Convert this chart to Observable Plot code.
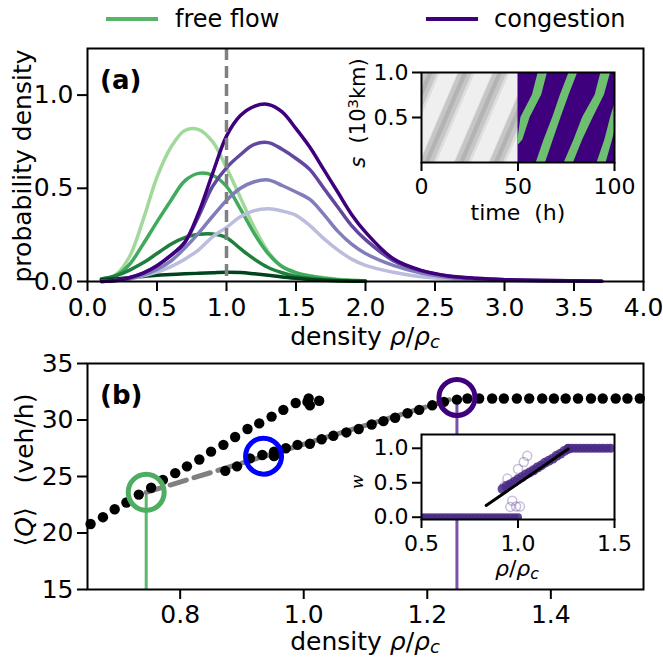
<!DOCTYPE html>
<html><head><meta charset="utf-8">
<script src="https://cdn.jsdelivr.net/npm/d3@7"></script>
<script src="https://cdn.jsdelivr.net/npm/@observablehq/plot@0.6"></script>
<style>
body{margin:0;background:#fff;}
#root{position:relative;width:663px;height:657px;overflow:hidden;background:#fff;font-family:"DejaVu Sans",sans-serif;color:#000;}
#root svg{position:absolute;background:transparent;}
.lab{position:absolute;white-space:nowrap;line-height:1;}
sub{font-size:0.72em;vertical-align:-0.2em;line-height:0;}
sup{font-size:0.7em;vertical-align:0.45em;line-height:0;}
</style></head><body><div id="root"></div>
<script>
// ---------- Panel (a): probability densities ----------
const densityX = [0.1,0.2,0.3,0.4,0.5,0.6,0.7,0.8,0.9,1.0,1.1,1.2,1.3,1.4,1.5,1.6,1.7,1.8,1.9,2.0,2.2,2.4,2.6,2.8,3.0,3.3,3.7];
const freeFlow1 = [0.015,0.035,0.13,0.33,0.56,0.72,0.81,0.815,0.75,0.61,0.45,0.29,0.16,0.08,0.045,0.03,0.02,0.012,0.007,0.004];
const freeFlow2 = [0.014,0.03,0.09,0.20,0.32,0.435,0.54,0.58,0.57,0.51,0.39,0.257,0.15,0.08,0.048,0.03,0.018,0.01,0.006,0.003];
const freeFlow3 = [0.014,0.03,0.06,0.10,0.15,0.20,0.235,0.253,0.255,0.235,0.176,0.12,0.075,0.047,0.027,0.017,0.01,0.006,0.004,0.002];
const freeFlow4 = [0.01,0.015,0.02,0.027,0.033,0.037,0.041,0.044,0.047,0.05,0.048,0.041,0.033,0.024,0.017,0.011,0.007,0.004,0.002,0.001];
const congestion1 = [0,0.005,0.012,0.03,0.05,0.08,0.12,0.17,0.24,0.29,0.347,0.38,0.39,0.378,0.355,0.3,0.23,0.17,0.12,0.087,0.05,0.026,0.014,0.008,0.005,0.002,0.001];
const congestion2 = [0,0.005,0.015,0.035,0.065,0.11,0.18,0.26,0.35,0.435,0.5,0.535,0.545,0.515,0.48,0.44,0.36,0.27,0.2,0.15,0.086,0.045,0.022,0.012,0.007,0.003,0.001];
const congestion3 = [0,0.005,0.02,0.045,0.085,0.14,0.21,0.35,0.51,0.61,0.68,0.735,0.745,0.71,0.66,0.6,0.5,0.4,0.3,0.225,0.112,0.058,0.028,0.016,0.01,0.005,0.002];
const congestion4 = [0,0.005,0.02,0.045,0.085,0.14,0.21,0.37,0.58,0.78,0.89,0.94,0.95,0.91,0.82,0.72,0.6,0.48,0.36,0.265,0.122,0.06,0.03,0.017,0.01,0.005,0.002];
const aXTicks = [0,0.5,1.0,1.5,2.0,2.5,3.0,3.5,4.0];
const aYTicks = [0,0.5,1.0];
const criticalDensity = [1.0];

// ---------- Inset (a): space-time plot ----------
const stripeS = [[0.2,0.25,0.5,0.75,1],[0,0.25,0.5,0.75,1],[0,0.25,0.5,0.75,1],[0,0.25,0.5,0.75,1]];
const stripeLeft  = [[50,50,51.5,57.5,60.5],[59.5,63.5,68,72,76.5],[74,79,83.5,90,93],[91,95,98,101.5,105]];
const stripeRight = [[50.5,52.5,56.3,62.3,65.3],[64.3,68.3,72.3,76.5,81],[78.8,83.5,89,94.8,98],[95.7,99,102,106,110]];
const grayBandStart = [-15,3,21,39];   // time at s=0
const grayBandEnd   = [5,23,41,59];    // time at s=1
const insetATicksX = [0,50,100];
const insetATicksY = [0.5,1.0];

// ---------- Panel (b): flow vs density ----------
const upperX = [0.655,0.675,0.694,0.713,0.733,0.753,0.772,0.792,0.811,0.831,0.850,0.870,0.889,0.909,0.928,0.948,0.967,0.987,1.006,1.008,1.010,1.025];
const upperY = [20.8,21.4,22.1,22.7,23.4,24.0,24.7,25.3,25.9,26.5,27.2,27.8,28.5,29.2,29.7,30.3,30.9,31.5,31.6,31.9,31.3,31.7];
const lowerX = [0.873,0.892,0.913,0.933,0.952,0.952,0.971,0.990,1.010,1.029,1.048,1.069,1.089,1.110,1.129,1.148,1.168,1.187,1.208,1.227,1.248];
const lowerY = [25.5,25.9,26.6,26.9,26.8,27.2,27.5,27.8,27.9,28.3,28.6,28.9,29.2,29.6,29.9,30.2,30.6,30.9,31.3,31.6,31.8];
const plateauX = [1.265,1.284,1.305,1.324,1.345,1.365,1.386,1.405,1.424,1.444,1.465,1.484,1.505,1.524,1.544];
const plateauY = [31.9,31.9,31.9,31.9,31.9,31.9,31.9,31.9,31.9,31.9,31.9,31.9,31.9,31.9,31.9];
const markerX = [0.745,0.935,1.248];
const markerY = [23.6,26.8,32.0];
const markerColor = ["#4dad60","#0000ff","#3f007d"];
const bXTicks = [0.8,1.0,1.2,1.4];
const bYTicks = [15,20,25,30,35];

// ---------- Inset (b): w vs density ----------
const zeroX = [0.50,0.52,0.54,0.56,0.58,0.60,0.62,0.64,0.66,0.68,0.70,0.72,0.74,0.76,0.78,0.80,0.82,0.84,0.86,0.88,0.90,0.92,0.94,0.96,0.98,1.00];
const zeroW = [0,0,0,0,0,0,0,0,0,0,0,0,0,0,0,0,0,0,0,0,0,0,0,0,0,0];
const rampX = [0.92,0.94,0.96,0.98,1.00,1.02,1.04,1.06,1.08,1.10,1.12,1.14,1.16,1.18,1.20,1.22,1.24,1.26];
const rampW = [0.41,0.45,0.48,0.51,0.55,0.58,0.62,0.65,0.68,0.72,0.75,0.79,0.82,0.85,0.89,0.92,0.96,0.99];
const oneX = [1.26,1.28,1.30,1.32,1.34,1.36,1.38,1.40,1.42,1.44,1.46,1.48];
const oneW = [1,1,1,1,1,1,1,1,1,1,1,1];
const outlierX = [1.048,1.03,1.0,0.945,0.97,0.99,1.01,0.96,0.93];
const outlierW = [0.89,0.80,0.70,0.56,0.24,0.155,0.155,0.15,0.45];
const fitX = [0.835,1.26];
const fitW = [0.17,0.99];
const insetBTicksX = [0.5,1.0,1.5];
const insetBTicksY = [0,0.5,1.0];

// ---------- build ----------
const root = document.getElementById("root");
const fmt1 = d3.format(".1f");
const zip = (xs, ys) => ys.map((y, i) => ({x: xs[i], y}));
const baseStyle = (fs) => ({fontFamily: "DejaVu Sans", fontSize: fs + "px", color: "black", background: "transparent", overflow: "visible"});
function place(svg, left, top) { svg.style.left = left + "px"; svg.style.top = top + "px"; root.appendChild(svg); }
const yAxisOpts = {tickSize: 10, tickPadding: 4, strokeWidth: 2, label: null};

// Panel (a)
const series = [
  [freeFlow1, "#a1d99b"], [freeFlow2, "#41ab5d"], [freeFlow3, "#1f7f3d"], [freeFlow4, "#00441b"],
  [congestion1, "#bcbddc"], [congestion2, "#807dba"], [congestion3, "#62479f"], [congestion4, "#3f007d"]
];
const plotA = Plot.plot({
  width: 663, height: 345, marginLeft: 87, marginRight: 20, marginTop: 48, marginBottom: 64,
  style: baseStyle(25),
  x: {domain: [0, 4]}, y: {domain: [0, 1.25]},
  marks: [
    ...series.map(([ys, c]) => Plot.line(zip(densityX, ys), {x: "x", y: "y", stroke: c, strokeWidth: 3.5, curve: "catmull-rom"})),
    Plot.ruleX(criticalDensity, {stroke: "#808080", strokeWidth: 3.5, strokeDasharray: "12,6"}),
    Plot.frame({stroke: "black", strokeWidth: 2}),
    Plot.axisX({ticks: aXTicks, tickFormat: fmt1, tickSize: 10, tickPadding: 7, strokeWidth: 2, label: null}),
    Plot.axisY({ticks: aYTicks, tickFormat: fmt1, ...yAxisOpts})
  ]
});
place(plotA, 0, 0);

// Inset (a)
const stripeRows = stripeS.flatMap((ss, k) => ss.map((s, i) => ({id: k, s, a: stripeLeft[k][i], b: stripeRight[k][i]})));
const bandRows = (lo, hi) => grayBandStart.flatMap((t0, k) => [
  {id: k, s: 0, a: t0 + lo, b: t0 + hi},
  {id: k, s: 1, a: grayBandEnd[k] + lo, b: grayBandEnd[k] + hi}
]);
const insetA = Plot.plot({
  width: 300, height: 180, marginLeft: 91, marginRight: 16, marginTop: 32, marginBottom: 58,
  style: baseStyle(22),
  x: {domain: [0, 100]}, y: {domain: [0, 1]},
  marks: [
    Plot.rect([{x1: 0, x2: 50, y1: 0, y2: 1}], {x1: "x1", x2: "x2", y1: "y1", y2: "y2", fill: "#dedede"}),
    Plot.areaX(bandRows(5, 14), {y: "s", x1: "a", x2: "b", z: "id", fill: "#efefef", clip: true}),
    Plot.areaX(bandRows(-3.5, 3.5), {y: "s", x1: "a", x2: "b", z: "id", fill: "#c6c6c6", clip: true}),
    Plot.areaX(bandRows(-1.2, 1.2), {y: "s", x1: "a", x2: "b", z: "id", fill: "#a6a6a6", fillOpacity: 0.6, clip: true}),
    Plot.rect([{x1: 50, x2: 100, y1: 0, y2: 1}], {x1: "x1", x2: "x2", y1: "y1", y2: "y2", fill: "#3f007d"}),
    Plot.areaX(stripeRows, {y: "s", x1: "a", x2: "b", z: "id", fill: "#6cc070", clip: true}),
    Plot.frame({stroke: "black", strokeWidth: 2}),
    Plot.axisX({ticks: insetATicksX, tickSize: 9, tickPadding: 7, strokeWidth: 2, label: null}),
    Plot.axisY({ticks: insetATicksY, tickFormat: fmt1, tickSize: 9, tickPadding: 4, strokeWidth: 2, label: null})
  ]
});
place(insetA, 330, 40);

// Panel (b)
const dotsB = [...zip(upperX, upperY), ...zip(lowerX, lowerY), ...zip(plateauX, plateauY)];
const markers = zip(markerX, markerY).map((d, i) => ({...d, c: markerColor[i]}));
const plotB = Plot.plot({
  width: 663, height: 317, marginLeft: 87, marginRight: 20, marginTop: 23, marginBottom: 68,
  style: baseStyle(25),
  x: {domain: [0.65, 1.55]}, y: {domain: [15, 35]},
  marks: [
    Plot.ruleX([markers[0]], {x: "x", y1: 15, y2: "y", stroke: "#5cb86c", strokeWidth: 3}),
    Plot.ruleX([markers[2]], {x: "x", y1: 15, y2: "y", stroke: "#7853a8", strokeWidth: 3}),
    Plot.line([markers[0], markers[2]], {x: "x", y: "y", stroke: "#808080", strokeWidth: 5, strokeDasharray: "17,8"}),
    Plot.dot(dotsB, {x: "x", y: "y", r: 5.2, fill: "black"}),
    ...markers.map(m => Plot.dot([m], {x: "x", y: "y", r: 18, stroke: m.c, strokeWidth: 5, fill: "none"})),
    Plot.frame({stroke: "black", strokeWidth: 2}),
    Plot.axisX({ticks: bXTicks, tickFormat: fmt1, tickSize: 10, tickPadding: 6, strokeWidth: 2, label: null}),
    Plot.axisY({ticks: bYTicks, ...yAxisOpts})
  ]
});
place(plotB, 0, 340);

// Inset (b)
const insetB = Plot.plot({
  width: 300, height: 180, marginLeft: 91, marginRight: 16, marginTop: 24, marginBottom: 71,
  style: baseStyle(22),
  x: {domain: [0.5, 1.5]}, y: {domain: [-0.033, 1.2]},
  marks: [
    Plot.frame({fill: "white", stroke: null}),
    Plot.dot(zip(zeroX, zeroW), {x: "x", y: "y", r: 4, fill: "#4a2a86", fillOpacity: 0.9, clip: true}),
    Plot.dot(zip(rampX, rampW), {x: "x", y: "y", r: 5, fill: "#4a2a86", fillOpacity: 0.85, clip: true}),
    Plot.dot(zip(oneX, oneW), {x: "x", y: "y", r: 4.5, fill: "#4a2a86", fillOpacity: 0.9, clip: true}),
    Plot.dot(zip(outlierX, outlierW), {x: "x", y: "y", r: 4.5, stroke: "#4a2a86", strokeOpacity: 0.3, strokeWidth: 1.5, fill: "none"}),
    Plot.line(zip(fitX, fitW), {x: "x", y: "y", stroke: "black", strokeWidth: 3}),
    Plot.frame({stroke: "black", strokeWidth: 2}),
    Plot.axisX({ticks: insetBTicksX, tickFormat: fmt1, tickSize: 9, tickPadding: 7, strokeWidth: 2, label: null}),
    Plot.axisY({ticks: insetBTicksY, tickFormat: fmt1, tickSize: 9, tickPadding: 4, strokeWidth: 2, label: null})
  ]
});
place(insetB, 330, 410);

// ---------- text labels & legend ----------
function label(html, x, y, {size = 25, rotate = 0, weight = "normal", family = null, anchor = "center"} = {}) {
  const d = document.createElement("div");
  d.className = "lab";
  d.innerHTML = html;
  d.style.left = x + "px"; d.style.top = y + "px";
  d.style.fontSize = size + "px"; d.style.fontWeight = weight;
  if (family) d.style.fontFamily = family;
  const tx = anchor === "left" ? "0" : "-50%";
  d.style.transform = `translate(${tx},-50%)` + (rotate ? ` rotate(${rotate}deg)` : "");
  root.appendChild(d);
}
function swatch(x, y, w, color) {
  const d = document.createElement("div");
  d.style.cssText = `position:absolute;left:${x}px;top:${y - 1.75}px;width:${w}px;height:3.5px;background:${color};`;
  root.appendChild(d);
}
const legendLabels = ["free flow", "congestion"];
const legendColors = ["#56b567", "#3f007d"];
swatch(106, 19, 52, legendColors[0]); label(legendLabels[0], 175, 19, {size: 24, anchor: "left"});
swatch(426, 19, 52, legendColors[1]); label(legendLabels[1], 494, 19, {size: 24, anchor: "left"});

const rho = '<i>ρ</i>/<i>ρ</i><sub><i>c</i></sub>';
label("probability density", 22, 166, {rotate: -90});
label("density " + rho, 365, 336);
label("(a)", 100, 80, {size: 26, weight: "bold", anchor: "left"});
label("<i>s</i>&nbsp;&nbsp;(10<sup>3</sup>km)", 358, 113, {size: 21, rotate: -90});
label("time&nbsp;&nbsp;(h)", 518, 213, {size: 22});

label("(b)", 100, 395, {size: 26, weight: "bold", anchor: "left"});
label("⟨<i>Q</i>⟩&nbsp;&nbsp;&nbsp;(veh/h)", 24, 470, {rotate: -90});
label("density " + rho, 365, 641);
label("<i>w</i>", 357, 482, {size: 17, rotate: -90, family: "DejaVu Serif"});
label(rho, 517, 569, {size: 22});
</script></body></html>
